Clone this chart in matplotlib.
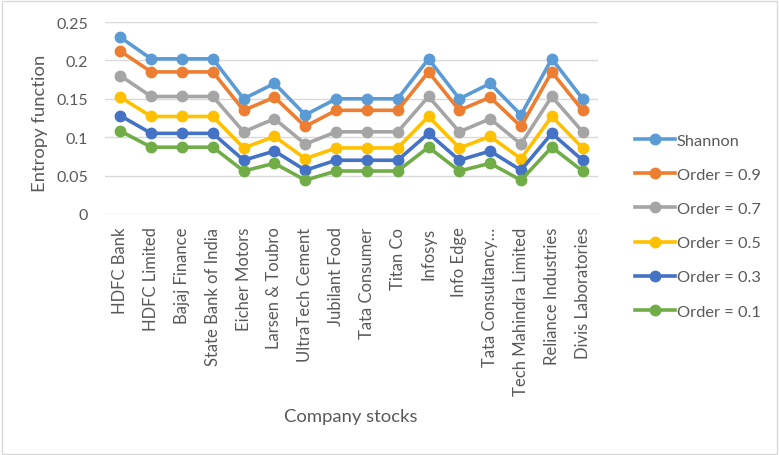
import matplotlib
matplotlib.use("Agg")
import matplotlib.pyplot as plt
from matplotlib.patches import Rectangle

plt.rcParams['font.family'] = ['Lato', 'DejaVu Sans']

companies = ["HDFC Bank", "HDFC Limited", "Bajaj Finance", "State Bank of India",
             "Eicher Motors", "Larsen & Toubro", "UltraTech Cement", "Jubilant Food",
             "Tata Consumer", "Titan Co", "Infosys", "Info Edge", "Tata Consultancy…",
             "Tech Mahindra Limited", "Reliance Industries", "Divis Laboratories"]

shannon = [0.230, 0.202, 0.202, 0.202, 0.150, 0.170, 0.129, 0.150,
           0.150, 0.150, 0.202, 0.150, 0.170, 0.129, 0.202, 0.150]
order_09 = [0.212, 0.185, 0.185, 0.185, 0.135, 0.152, 0.114, 0.135,
            0.135, 0.135, 0.185, 0.135, 0.152, 0.114, 0.185, 0.135]
order_07 = [0.180, 0.153, 0.153, 0.153, 0.107, 0.124, 0.091, 0.107,
            0.107, 0.107, 0.153, 0.107, 0.124, 0.091, 0.153, 0.107]
order_05 = [0.152, 0.127, 0.127, 0.127, 0.086, 0.101, 0.072, 0.086,
            0.086, 0.086, 0.127, 0.086, 0.101, 0.072, 0.127, 0.086]
order_03 = [0.128, 0.105, 0.105, 0.105, 0.070, 0.082, 0.057, 0.070,
            0.070, 0.070, 0.105, 0.070, 0.082, 0.057, 0.105, 0.070]
order_01 = [0.108, 0.087, 0.087, 0.087, 0.056, 0.066, 0.044, 0.056,
            0.056, 0.056, 0.087, 0.056, 0.066, 0.044, 0.087, 0.056]

series_names = ["Shannon", "Order = 0.9", "Order = 0.7", "Order = 0.5", "Order = 0.3", "Order = 0.1"]
series_values = [shannon, order_09, order_07, order_05, order_03, order_01]
colors = ["#5B9BD5", "#ED7D31", "#A5A5A5", "#FFC000", "#4472C4", "#70AD47"]
yticks = [0, 0.05, 0.1, 0.15, 0.2, 0.25]
ytick_labels = ["0", "0.05", "0.1", "0.15", "0.2", "0.25"]

fig = plt.figure(figsize=(7.79, 4.56), dpi=100)
ax = fig.add_axes([105/779, 1-215/456, (598-105)/779, (215-23)/456])

x = list(range(len(companies)))
handles = []
for name, vals, c in zip(series_names, series_values, colors):
    h, = ax.plot(x, vals, color=c, lw=2.6, marker='o', ms=7.5, mec=c, mfc=c, label=name)
    handles.append(h)

ax.set_xlim(-0.5, len(companies) - 0.5)
ax.set_ylim(0, 0.25)
ax.set_yticks(yticks)
ax.set_yticklabels(ytick_labels)
ax.set_xticks(x)
ax.set_xticklabels(companies, rotation=90)
ax.tick_params(axis='both', length=0, colors='#595959')
ax.tick_params(axis='x', pad=9, labelsize=12)
ax.tick_params(axis='y', pad=12, labelsize=11.5)
ax.grid(axis='y', color='#D9D9D9', lw=1)
ax.set_axisbelow(True)
for s in ax.spines.values():
    s.set_visible(False)

fig.text(40/779, 1-123/456, "Entropy function", fontsize=13.3, color='#595959',
         ha='center', va='center', rotation=90)
fig.text(351/779, 1-417/456, "Company stocks", fontsize=13.3, color='#595959',
         ha='center', va='center')

fig.legend(handles=handles, loc='center left', bbox_to_anchor=(627/779, 1-227/456),
           frameon=False, fontsize=11.8, labelcolor='#595959', handlelength=2.4,
           handletextpad=0.15, labelspacing=1.2, borderpad=0)

fig.patches.append(Rectangle((0.002, 0.003), 0.995, 0.993, transform=fig.transFigure,
                             fill=False, edgecolor='#D9D9D9', lw=1))

fig.savefig("out.png", dpi=100)
